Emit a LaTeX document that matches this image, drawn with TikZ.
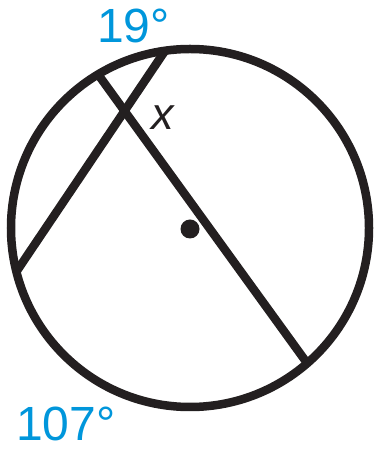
\documentclass[tikz,border=0pt]{standalone}
\usepackage{fontspec}
\setmainfont{Liberation Sans}
\definecolor{labelblue}{RGB}{0,150,219}
\definecolor{ink}{RGB}{35,31,32}
\begin{document}
\begin{tikzpicture}[x=1pt,y=1pt,
  stroke/.style={draw=ink,line width=8.5pt},
  arclabel/.style={text=labelblue,font=\fontsize{48}{48}\selectfont,inner sep=0pt,anchor=base west},
  anglabel/.style={text=ink,font=\fontsize{45}{45}\selectfont\itshape,inner sep=0pt,anchor=base west}]
\useasboundingbox (0,0) rectangle (376,449);
\coordinate (c) at (190,221);
\draw[stroke] (c) circle[radius=179pt];
\path (c) ++(98.0:179pt) coordinate (p1);
\path (c) ++(194.1:179pt) coordinate (p2);
\path (c) ++(120.9:179pt) coordinate (q1);
\path (c) ++(310.9:179pt) coordinate (q2);
\draw[stroke] (p1) -- (p2);
\draw[stroke] (q1) -- (q2);
\fill[ink] (190,220) circle[radius=9.5pt];
\node[arclabel] (a19) at (97,406) {19°};
\node[arclabel] (a107) at (16,9) {107°};
\node[anglabel] (x) at (151,319) {x};
\end{tikzpicture}
\end{document}
